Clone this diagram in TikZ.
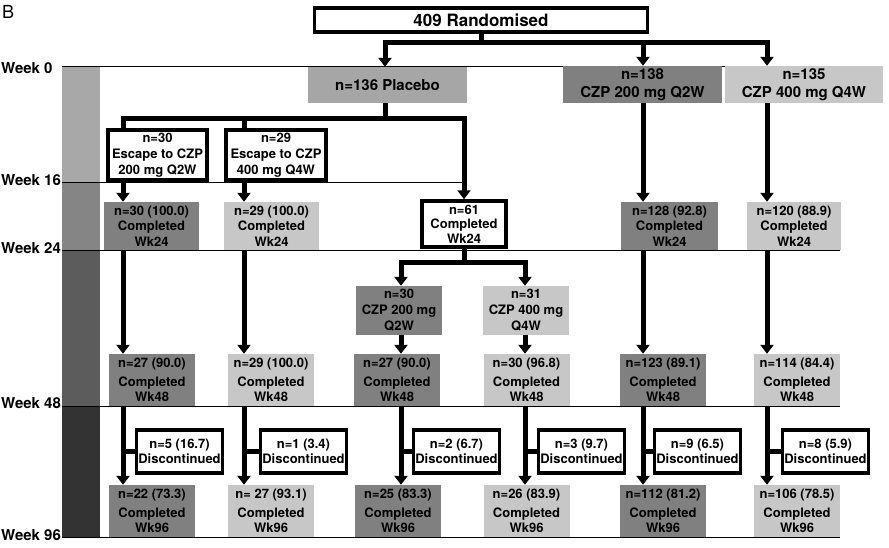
\documentclass[tikz,border=0pt]{standalone}
\usepackage{fontspec}
\setmainfont{TeX Gyre Heros}
\usetikzlibrary{arrows.meta}
\definecolor{dkg}{gray}{0.5}
\definecolor{ltg}{gray}{0.78}
\definecolor{plc}{gray}{0.65}
\definecolor{barA}{gray}{0.66}
\definecolor{barB}{gray}{0.52}
\definecolor{barC}{gray}{0.36}
\definecolor{barD}{gray}{0.2}
\tikzset{
  conn/.style={line width=5pt},
  arr/.style={conn, -{Triangle[width=13pt,length=9pt]}},
  wkline/.style={line width=0.9pt},
  wklab/.style={anchor=base west, inner sep=0pt, font=\fontsize{15}{18}\selectfont\bfseries},
  txt/.style={align=center, inner sep=0pt, font=\fontsize{13}{15.5}\selectfont\bfseries},
  bigtxt/.style={align=center, inner sep=0pt, font=\fontsize{15}{18}\selectfont\bfseries},
  outbox/.style={txt, draw, line width=3.5pt, fill=white},
  dkbox/.style={txt, fill=dkg},
  ltbox/.style={txt, fill=ltg},
  wkbox/.style={minimum width=86pt, minimum height=52pt},
  discbox/.style={outbox, minimum width=86pt, minimum height=43pt}
}
\begin{document}
\begin{tikzpicture}[x=1pt,y=-1pt]
\useasboundingbox (0,0) rectangle (889,547);
% left bar
\fill[barA] (62,66) rectangle (100,182);
\fill[barB] (62,182) rectangle (100,250);
\fill[barC] (62,250) rectangle (100,406);
\fill[barD] (62,406) rectangle (100,537);
% week lines
\draw[wkline] (62,66) -- (883,66);
\draw[wkline] (62,182) -- (463,182);
\draw[wkline] (62,250) -- (840,250);
\draw[wkline] (62,406) -- (840,406);
\draw[wkline] (62,537) -- (840,537);
% labels
\node[anchor=base west, inner sep=0pt, font=\fontsize{18}{20}\selectfont] (lB) at (2,18) {B};
\node[wklab] (l0) at (1,73) {Week 0};
\node[wklab] (l16) at (1,185) {Week 16};
\node[wklab] (l24) at (1,253) {Week 24};
\node[wklab] (l48) at (1,408) {Week 48};
\node[wklab] (l96) at (1,540) {Week 96};
% columns
\coordinate (k1) at (123,0);
\coordinate (k2) at (244,0);
\coordinate (kP) at (385,0);
\coordinate (k61) at (464,0);
\coordinate (k3) at (401,0);
\coordinate (k4) at (525,0);
\coordinate (k5) at (643,0);
\coordinate (k6) at (767,0);
\coordinate (hA) at (0,42);
\coordinate (hB) at (0,118);
\coordinate (hC) at (0,262);
% top boxes
\node[outbox, font=\fontsize{17}{20}\selectfont\bfseries, minimum width=333pt, minimum height=24pt] (rand) at (481,20) {409 Randomised};
\node[bigtxt, fill=plc, minimum width=159pt, minimum height=36pt] (plac) at (387.5,85) {n=136 Placebo};
\node[bigtxt, fill=dkg, minimum width=159pt, minimum height=37pt] (czA) at (642.5,84.5) {n=138\\CZP 200 mg Q2W};
\node[bigtxt, fill=ltg, minimum width=158pt, minimum height=37pt] (czB) at (804,84.5) {n=135\\CZP 400 mg Q4W};
% escape boxes
\node[outbox, font=\fontsize{13}{16}\selectfont\bfseries, minimum width=99pt, minimum height=50pt] (esc1) at (157.5,155) {n=30\\Escape to CZP\\200 mg Q2W};
\node[outbox, font=\fontsize{13}{16}\selectfont\bfseries, minimum width=100pt, minimum height=50pt] (esc2) at (276,155) {n=29\\Escape to CZP\\400 mg Q4W};
% week 24 boxes
\node[dkbox, minimum width=95pt, minimum height=48pt] (w24a) at (151.5,226) {n=30 (100.0)\\Completed\\Wk24};
\node[ltbox, minimum width=95pt, minimum height=48pt] (w24b) at (271.5,226) {n=29 (100.0)\\Completed\\Wk24};
\node[outbox, font=\fontsize{13}{14.5}\selectfont\bfseries, minimum width=84pt, minimum height=46pt] (n61) at (464,224) {n=61\\Completed\\Wk24};
\node[dkbox, minimum width=97pt, minimum height=48pt] (w24e) at (669.5,226) {n=128 (92.8)\\Completed\\Wk24};
\node[ltbox, minimum width=94pt, minimum height=48pt] (w24f) at (794,226) {n=120 (88.9)\\Completed\\Wk24};
% re-randomised placebo
\node[dkbox, font=\fontsize{13}{16}\selectfont\bfseries, minimum width=86pt, minimum height=49pt] (cz3) at (399,310.5) {n=30\\CZP 200 mg\\Q2W};
\node[ltbox, font=\fontsize{13}{16}\selectfont\bfseries, minimum width=86pt, minimum height=49pt] (cz4) at (526,310.5) {n=31\\CZP 400 mg\\Q4W};
% week 48 boxes
\node[dkbox, wkbox] (w48a) at (152,380) {n=27 (90.0)\\[3pt]Completed\\Wk48};
\node[ltbox, wkbox] (w48b) at (271,380) {n=29 (100.0)\\[3pt]Completed\\Wk48};
\node[dkbox, wkbox] (w48c) at (397,380) {n=27 (90.0)\\[3pt]Completed\\Wk48};
\node[ltbox, wkbox] (w48d) at (526.5,380) {n=30 (96.8)\\[3pt]Completed\\Wk48};
\node[dkbox, wkbox] (w48e) at (663,380) {n=123 (89.1)\\[3pt]Completed\\Wk48};
\node[ltbox, wkbox] (w48f) at (797,380) {n=114 (84.4)\\[3pt]Completed\\Wk48};
% discontinued
\node[discbox] (d1) at (179.5,451.5) {n=5 (16.7)\\Discontinued};
\node[discbox] (d2) at (303.5,451.5) {n=1 (3.4)\\Discontinued};
\node[discbox] (d3) at (456.5,451.5) {n=2 (6.7)\\Discontinued};
\node[discbox] (d4) at (581.5,451.5) {n=3 (9.7)\\Discontinued};
\node[discbox] (d5) at (697.5,451.5) {n=9 (6.5)\\Discontinued};
\node[discbox] (d6) at (825.5,451.5) {n=8 (5.9)\\Discontinued};
% week 96 boxes
\node[dkbox, wkbox] (w96a) at (152,511) {n=22 (73.3)\\[3pt]Completed\\Wk96};
\node[ltbox, wkbox] (w96b) at (271,511) {n= 27 (93.1)\\[3pt]Completed\\Wk96};
\node[dkbox, wkbox] (w96c) at (398,511) {n=25 (83.3)\\[3pt]Completed\\Wk96};
\node[ltbox, wkbox] (w96d) at (526.5,511) {n=26 (83.9)\\[3pt]Completed\\Wk96};
\node[dkbox, wkbox] (w96e) at (663,511) {n=112 (81.2)\\[3pt]Completed\\Wk96};
\node[ltbox, wkbox] (w96f) at (797,511) {n=106 (78.5)\\[3pt]Completed\\Wk96};
% connectors: randomisation
\draw[arr] (rand.south) -- (rand.south |- hA) -| (plac.north -| kP);
\draw[arr] (rand.south |- hA) -| (czA.north -| k5);
\draw[arr] (rand.south |- hA) -| (czB.north -| k6);
% placebo branches
\draw[conn] (plac.south -| kP) -- (kP |- hB) -| (esc1.north -| k1);
\draw[conn] (kP |- hB) -| (esc2.north -| k2);
\draw[arr] (kP |- hB) -| (n61.north -| k61);
% week 16 -> 24
\draw[arr] (esc1.south -| k1) -- (w24a.north -| k1);
\draw[arr] (esc2.south -| k2) -- (w24b.north -| k2);
\draw[arr] (czA.south -| k5) -- (w24e.north -| k5);
\draw[arr] (czB.south -| k6) -- (w24f.north -| k6);
% week 24 -> 48
\draw[arr] (w24a.south -| k1) -- (w48a.north -| k1);
\draw[arr] (w24b.south -| k2) -- (w48b.north -| k2);
\draw[arr] (w24e.south -| k5) -- (w48e.north -| k5);
\draw[arr] (w24f.south -| k6) -- (w48f.north -| k6);
\draw[arr] (n61.south) -- (n61.south |- hC) -| (cz3.north -| k3);
\draw[arr] (n61.south |- hC) -| (cz4.north -| k4);
\draw[arr] (cz3.south -| k3) -- (w48c.north -| k3);
\draw[arr] (cz4.south -| k4) -- (w48d.north -| k4);
% week 48 -> 96
\draw[arr] (w48a.south -| k1) -- (w96a.north -| k1);
\draw[arr] (w48b.south -| k2) -- (w96b.north -| k2);
\draw[arr] (w48c.south -| k3) -- (w96c.north -| k3);
\draw[arr] (w48d.south -| k4) -- (w96d.north -| k4);
\draw[arr] (w48e.south -| k5) -- (w96e.north -| k5);
\draw[arr] (w48f.south -| k6) -- (w96f.north -| k6);
% discontinued links
\draw[conn] (k1 |- d1.west) -- (d1.west);
\draw[conn] (k2 |- d2.west) -- (d2.west);
\draw[conn] (k3 |- d3.west) -- (d3.west);
\draw[conn] (k4 |- d4.west) -- (d4.west);
\draw[conn] (k5 |- d5.west) -- (d5.west);
\draw[conn] (k6 |- d6.west) -- (d6.west);
\end{tikzpicture}
\end{document}
